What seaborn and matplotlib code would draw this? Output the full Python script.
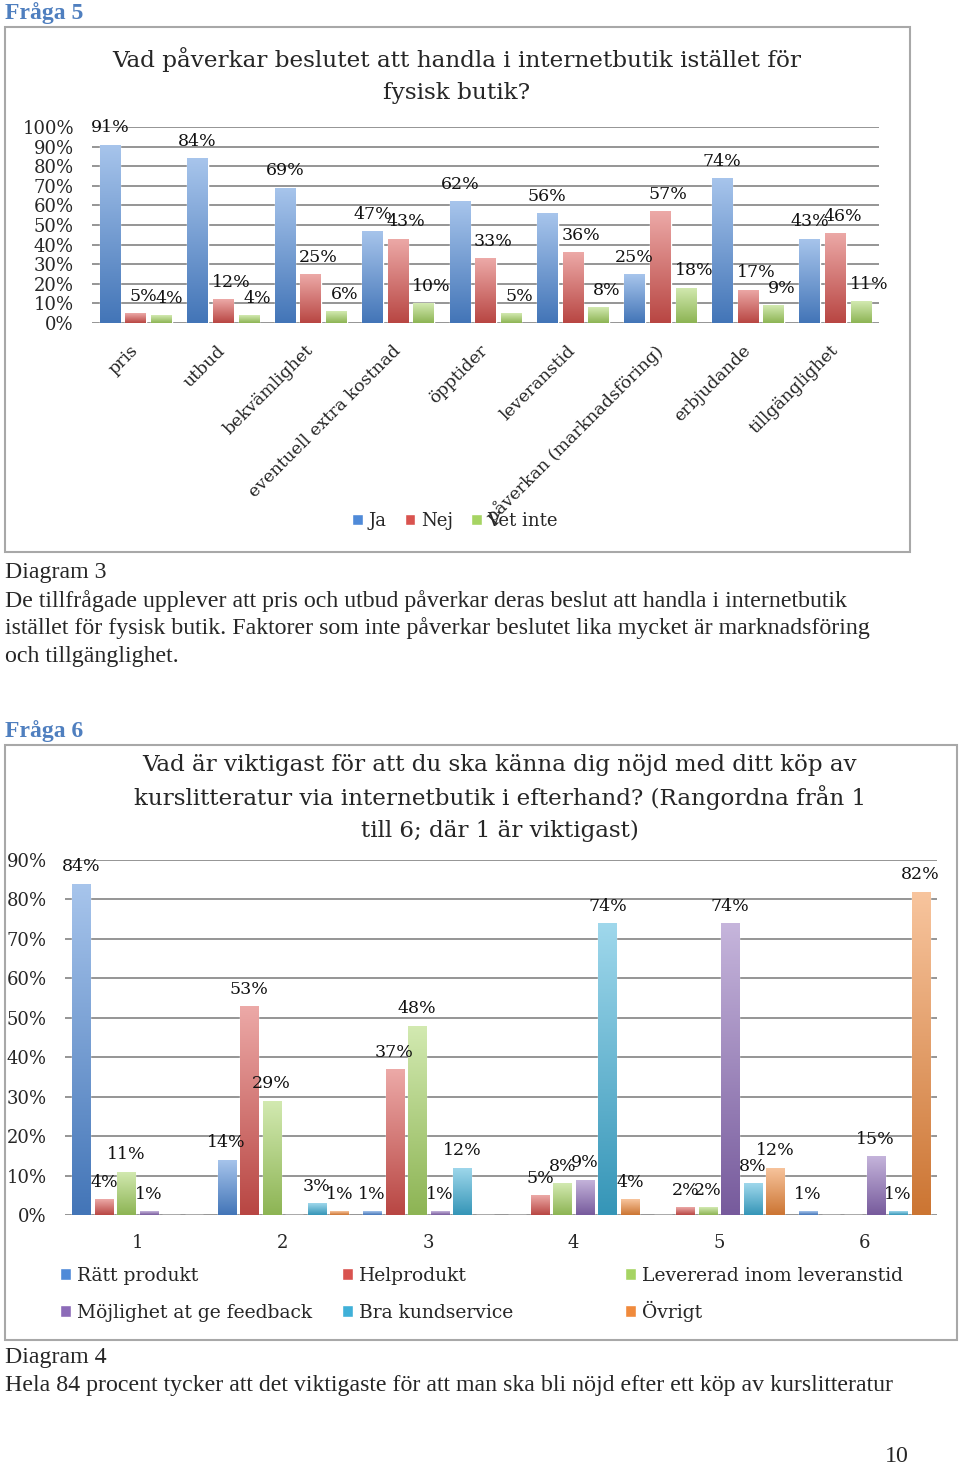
import numpy as np
import pandas as pd
import matplotlib
matplotlib.use("Agg")
import matplotlib.pyplot as plt
import matplotlib.colors as mcolors
from matplotlib.patches import Rectangle, Patch
import seaborn as sns

# --- data: Fråga 5 -------------------------------------------------------
q5_factors = ["pris", "utbud", "bekvämlighet", "eventuell extra kostnad",
              "öpptider", "leveranstid", "påverkan (marknadsföring)",
              "erbjudande", "tillgänglighet"]
q5_answers = ["Ja", "Nej", "Vet inte"]
q5_ja = [91, 84, 69, 47, 62, 56, 25, 74, 43]
q5_nej = [5, 12, 25, 43, 33, 36, 57, 17, 46]
q5_vet = [4, 4, 6, 10, 5, 8, 18, 9, 11]

# --- data: Fråga 6 -------------------------------------------------------
q6_ranks = ["1", "2", "3", "4", "5", "6"]
q6_options = ["Rätt produkt", "Helprodukt", "Levererad inom leveranstid",
              "Möjlighet at ge feedback", "Bra kundservice", "Övrigt"]
q6_ratt = [84, 14, 1, 0, 0, 1]
q6_hel = [4, 53, 37, 5, 2, 0]
q6_lev = [11, 29, 48, 8, 2, 0]
q6_feedback = [1, 0, 1, 9, 74, 15]
q6_kund = [0, 3, 12, 74, 8, 1]
q6_ovrigt = [0, 1, 0, 4, 12, 82]

q5_colors = {"Ja": "#4f8ad8", "Nej": "#d9534f", "Vet inte": "#a6d463"}
q6_colors = dict(zip(q6_options, ["#4f8ad8", "#d9534f", "#a6d463",
                                  "#8c6bb8", "#3fb0d8", "#f08a3c"]))

W, H = 960, 1466
BODY = "Liberation Serif"
CHART = "DejaVu Serif"
BLUE_HEAD = "#4f7fbf"


def fx(x):
    return x / W


def fy(y):
    return 1 - y / H


def axes_box(left, right, top, bottom):
    return [fx(left), fy(bottom), (right - left) / W, (bottom - top) / H]


def shade(ax):
    """Excel-style vertical gradient on each bar."""
    for bar in list(ax.patches):
        h = bar.get_height()
        if h <= 0:
            continue
        x0, w = bar.get_x(), bar.get_width()
        base = np.array(mcolors.to_rgb(bar.get_facecolor()))
        top = base + (1 - base) * 0.5
        bot = base * 0.85
        grad = np.linspace(top, bot, 64)[:, None, :]
        im = ax.imshow(grad, extent=[x0, x0 + w, 0, h], aspect="auto",
                       origin="upper", zorder=bar.get_zorder() + 0.1,
                       interpolation="bilinear")
        im.set_clip_path(bar)


def style_axes(ax, ymax, step):
    ax.set_ylim(0, ymax)
    ax.set_yticks(np.arange(0, ymax + 1, step))
    ax.yaxis.set_major_formatter(lambda v, p: f"{v:.0f}%")
    ax.grid(axis="y", color="#8c8c8c", lw=1.3)
    ax.set_axisbelow(True)
    for s in ax.spines.values():
        s.set_visible(False)
    ax.tick_params(length=0)
    ax.set_xlabel("")
    ax.set_ylabel("")
    ax.set_facecolor("none")


def add_labels(ax, size, shifts=None):
    # shifts: horizontal nudge in px per hue level (Excel moves crowded labels)
    for k, cont in enumerate(ax.containers):
        labels = [f"{v:.0f}%" if v > 0 else "" for v in cont.datavalues]
        texts = ax.bar_label(cont, labels=labels, padding=6, fontsize=size,
                             family=CHART, color="#111111")
        dx = shifts[k] if shifts else 0
        for t in texts:
            t.xyann = (dx * 0.72, t.xyann[1])


sns.set_theme(style="white")
plt.rcParams["font.family"] = [BODY, "DejaVu Sans"]

fig = plt.figure(figsize=(W / 100, H / 100), dpi=100)
fig.patch.set_facecolor("white")

# frames around the charts
for (l, t, r, b) in [(5, 27, 910, 552), (5, 745, 957, 1340)]:
    fig.add_artist(Rectangle((fx(l), fy(b)), (r - l) / W, (b - t) / H,
                             transform=fig.transFigure, fill=False,
                             edgecolor="#a8a8a8", lw=1.5))

# ---------------- chart 1 ----------------
df5 = pd.DataFrame({
    "faktor": q5_factors * 3,
    "svar": [a for a in q5_answers for _ in q5_factors],
    "andel": q5_ja + q5_nej + q5_vet,
})
ax1 = fig.add_axes(axes_box(92, 879, 127, 323))
sns.barplot(data=df5, x="faktor", y="andel", hue="svar", order=q5_factors,
            hue_order=q5_answers, palette=q5_colors, width=0.88, gap=0.2,
            saturation=1, legend=False, ax=ax1)
shade(ax1)
style_axes(ax1, 100, 10)
ax1.set_xlim(-0.5, len(q5_factors) - 0.5)
add_labels(ax1, 12.5, shifts=[0, 8, 8])
ax1.tick_params(axis="y", labelsize=13, pad=13)
for lab in ax1.get_yticklabels():
    lab.set_family(CHART)
ax1.set_xticks(range(len(q5_factors)))
ax1.set_xticklabels(q5_factors, rotation=45, ha="right", va="center",
                    rotation_mode="anchor", fontsize=12.5, family=CHART)
ax1.tick_params(axis="x", pad=18)

fig.text(fx(457), fy(60), "Vad påverkar beslutet att handla i internetbutik istället för",
         ha="center", va="center", fontsize=16.7, family=CHART)
fig.text(fx(457), fy(93), "fysisk butik?", ha="center", va="center",
         fontsize=16.7, family=CHART)

h5 = [Patch(facecolor=q5_colors[a], label=a) for a in q5_answers]
fig.legend(handles=h5, loc="center", bbox_to_anchor=(fx(455), fy(521)), ncol=3,
           frameon=False, prop={"family": CHART, "size": 13},
           handlelength=0.6, handleheight=0.6, handletextpad=0.3, columnspacing=1.0)

# ---------------- chart 2 ----------------
df6 = pd.DataFrame({
    "rang": q6_ranks * 6,
    "alternativ": [o for o in q6_options for _ in q6_ranks],
    "andel": q6_ratt + q6_hel + q6_lev + q6_feedback + q6_kund + q6_ovrigt,
})
ax2 = fig.add_axes(axes_box(65, 937, 860, 1215))
sns.barplot(data=df6, x="rang", y="andel", hue="alternativ", order=q6_ranks,
            hue_order=q6_options, palette=q6_colors, width=0.93, gap=0.2,
            saturation=1, legend=False, ax=ax2)
shade(ax2)
style_axes(ax2, 90, 10)
ax2.set_xlim(-0.5, len(q6_ranks) - 0.5)
add_labels(ax2, 12.5)
ax2.tick_params(axis="y", labelsize=13, pad=13)
ax2.tick_params(axis="x", labelsize=13, pad=14)
for lab in ax2.get_yticklabels() + ax2.get_xticklabels():
    lab.set_family(CHART)

for i, line in enumerate(["Vad är viktigast för att du ska känna dig nöjd med ditt köp av",
                          "kurslitteratur via internetbutik i efterhand? (Rangordna från 1",
                          "till 6; där 1 är viktigast)"]):
    fig.text(fx(500), fy(765 + 33 * i), line, ha="center", va="center",
             fontsize=16.6, family=CHART)

legend_pos = [(60, 1276), (342, 1276), (625, 1276),
              (60, 1313), (342, 1313), (625, 1311)]
for opt, (lx, ly) in zip(q6_options, legend_pos):
    fig.legend(handles=[Patch(facecolor=q6_colors[opt], label=opt)],
               loc="center left", bbox_to_anchor=(fx(lx), fy(ly)), frameon=False,
               prop={"family": CHART, "size": 13.5}, handlelength=0.6,
               handleheight=0.6, handletextpad=0.3, borderaxespad=0, borderpad=0)

# ---------------- page text ----------------
fig.text(fx(5), fy(13), "Fråga 5", ha="left", va="center", fontsize=17,
         weight="bold", color=BLUE_HEAD, family=BODY)
fig.text(fx(5), fy(731), "Fråga 6", ha="left", va="center", fontsize=17,
         weight="bold", color=BLUE_HEAD, family=BODY)
body3 = ["Diagram 3",
         "De tillfrågade upplever att pris och utbud påverkar deras beslut att handla i internetbutik",
         "istället för fysisk butik. Faktorer som inte påverkar beslutet lika mycket är marknadsföring",
         "och tillgänglighet."]
for i, line in enumerate(body3):
    fig.text(fx(5), fy(573 + 27.7 * i), line, ha="left", va="center",
             fontsize=17.2, family=BODY)
body4 = ["Diagram 4",
         "Hela 84 procent tycker att det viktigaste för att man ska bli nöjd efter ett köp av kurslitteratur"]
for i, line in enumerate(body4):
    fig.text(fx(5), fy(1358 + 27.7 * i), line, ha="left", va="center",
             fontsize=17.2, family=BODY)
fig.text(fx(909), fy(1456), "10", ha="right", va="center", fontsize=17.2, family=BODY)

fig.savefig("out.png", dpi=100)
